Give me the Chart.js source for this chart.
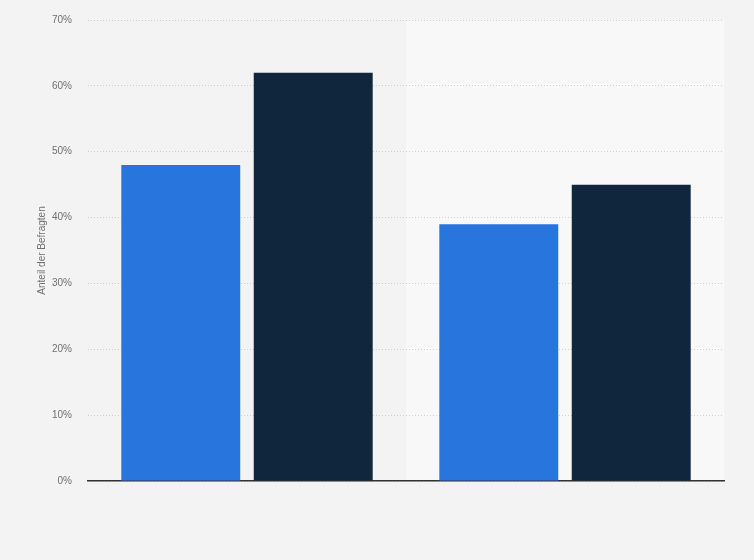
<!DOCTYPE html>
<html>
<head>
<meta charset="utf-8">
<script src="https://cdn.jsdelivr.net/npm/chart.js@4/dist/chart.umd.min.js"></script>
<style>
  html, body { margin: 0; padding: 0; background: #f3f3f3; }
  #wrap { width: 754px; height: 560px; }
</style>
</head>
<body>
<div id="wrap"><canvas id="chart" width="754" height="560"></canvas></div>
<script>
// Daten
const categories = ["Gruppe 1", "Gruppe 2"];
const seriesA = [48, 39];
const seriesB = [62, 45];
const yTicks = [0, 10, 20, 30, 40, 50, 60, 70];

// heller Hintergrund hinter der zweiten Kategorie
const bandPlugin = {
  id: "band",
  beforeDraw(chart) {
    const { ctx, chartArea, scales } = chart;
    const x = scales.x;
    const half = (x.getPixelForValue(1) - x.getPixelForValue(0)) / 2;
    const left = x.getPixelForValue(1) - half;
    ctx.save();
    ctx.fillStyle = "#f8f8f8";
    ctx.fillRect(left, chartArea.top, chartArea.right - left, chartArea.bottom - chartArea.top);
    ctx.restore();
  },
};

new Chart(document.getElementById("chart").getContext("2d"), {
  type: "bar",
  data: {
    labels: categories,
    datasets: [
      { label: "A", data: seriesA, backgroundColor: "#2876dd" },
      { label: "B", data: seriesB, backgroundColor: "#10263d" },
    ],
  },
  plugins: [bandPlugin],
  options: {
    responsive: false,
    animation: false,
    devicePixelRatio: 1,
    layout: { padding: { left: 36, top: 20, right: 30, bottom: 79 } },
    categoryPercentage: 0.833,
    barPercentage: 0.898,
    plugins: { legend: { display: false }, tooltip: { enabled: false } },
    scales: {
      x: {
        grid: { display: false, drawTicks: false },
        border: { display: true, color: "#333333", width: 1.5 },
        ticks: { display: false },
      },
      y: {
        min: 0,
        max: 70,
        afterBuildTicks(scale) {
          scale.ticks = yTicks.map((v) => ({ value: v }));
        },
        afterFit(scale) {
          scale.width = 52;
          scale.paddingTop = 0;
          scale.paddingBottom = 0;
        },
        grid: { color: "#cfcfcf", drawTicks: false },
        border: { display: false, dash: [1, 2] },
        ticks: {
          padding: 16,
          color: "#707070",
          font: { family: "Arial, 'Liberation Sans', sans-serif", size: 10 },
          callback: (v) => v + "%",
        },
        title: {
          display: true,
          text: "Anteil der Befragten",
          color: "#707070",
          padding: { top: 0, bottom: 0 },
          font: { family: "Arial, 'Liberation Sans', sans-serif", size: 10 },
        },
      },
    },
  },
});
</script>
</body>
</html>
